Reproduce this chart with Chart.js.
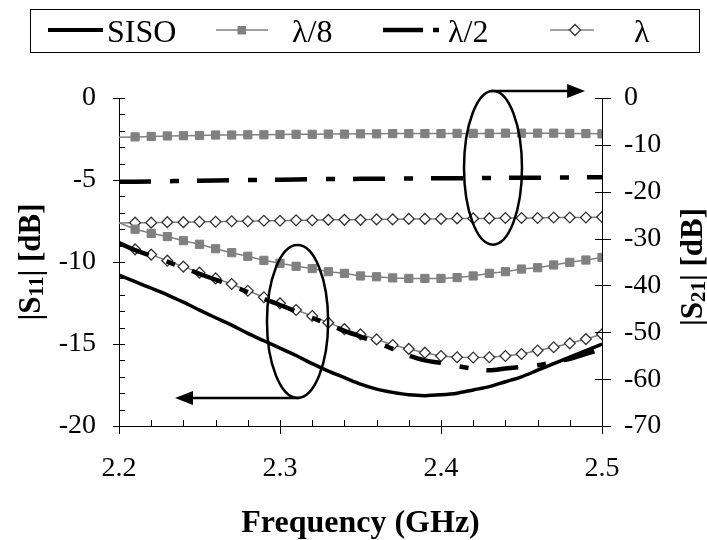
<!DOCTYPE html>
<html>
<head>
<meta charset="utf-8">
<script src="https://cdn.jsdelivr.net/npm/chart.js@4"></script>
<style>
  body { margin: 0; background: #fff; }
  #wrap { position: relative; width: 707px; height: 540px; }
  #legend {
    position: absolute; left: 30px; top: 9px; width: 670px; height: 44px;
    border: 1.5px solid #000; box-sizing: border-box;
    font-family: 'Liberation Serif', serif; font-size: 32px; color: #000;
  }
  #legend svg, #legend span { position: absolute; }
  #legend span { top: 1px; line-height: 40px; }
  #legend svg { top: 10px; }
</style>
</head>
<body>
<div id="wrap">
  <canvas id="chart" width="707" height="540"></canvas>
  <div id="legend">
    <svg style="left:17px" width="56" height="20"><line x1="0" y1="10" x2="55" y2="10" stroke="#000" stroke-width="4"/></svg>
    <span style="left:76px">SISO</span>
    <svg style="left:185px" width="54" height="20"><line x1="0" y1="10" x2="52" y2="10" stroke="#808080" stroke-width="1.5"/><rect x="21.5" y="6" width="8.5" height="8.5" fill="#808080"/></svg>
    <span style="left:261px">λ/8</span>
    <svg style="left:352px" width="60" height="20"><line x1="0" y1="10" x2="40" y2="10" stroke="#000" stroke-width="4.5"/><line x1="50" y1="10" x2="56" y2="10" stroke="#000" stroke-width="4.5"/></svg>
    <span style="left:417px">λ/2</span>
    <svg style="left:519px" width="48" height="20"><line x1="0" y1="10" x2="44" y2="10" stroke="#808080" stroke-width="1.5"/><polygon points="19.5,10 25,4.5 30.5,10 25,15.5" fill="#fff" stroke="#333" stroke-width="1.3"/></svg>
    <span style="left:603px">λ</span>
  </div>
</div>
<script>
// Frequency points (GHz)
const freq = [2.20, 2.21, 2.22, 2.23, 2.24, 2.25, 2.26, 2.27, 2.28, 2.29, 2.30,
  2.31, 2.32, 2.33, 2.34, 2.35, 2.36, 2.37, 2.38, 2.39, 2.40,
  2.41, 2.42, 2.43, 2.44, 2.45, 2.46, 2.47, 2.48, 2.49, 2.50];

// |S11| (left axis)
const sisoS11 = [-10.8, -11.2, -11.6, -12.0, -12.45, -12.93, -13.4, -13.85, -14.35, -14.8, -15.25,
  -15.7, -16.2, -16.65, -17.05, -17.45, -17.75, -17.95, -18.1, -18.15, -18.1,
  -18.0, -17.8, -17.6, -17.3, -17.0, -16.6, -16.2, -15.8, -15.4, -15.0];
const l8S11 = [-7.6, -8.0, -8.25, -8.45, -8.7, -8.92, -9.19, -9.43, -9.65, -9.9, -10.08,
  -10.26, -10.4, -10.59, -10.69, -10.85, -10.9, -10.97, -11.0, -11.0, -11.0,
  -10.95, -10.85, -10.69, -10.59, -10.43, -10.35, -10.18, -10.02, -9.88, -9.72];
const l2S11 = [-8.85, -9.28, -9.62, -9.98, -10.35, -10.72, -11.08, -11.44, -11.84, -12.24, -12.62,
  -13.02, -13.4, -13.8, -14.2, -14.55, -14.9, -15.3, -15.7, -16.0, -16.15,
  -16.35, -16.5, -16.6, -16.5, -16.4, -16.3, -16.1, -15.9, -15.6, -15.3];
const lS11 = [-8.9, -9.23, -9.55, -9.92, -10.28, -10.65, -11.0, -11.34, -11.75, -12.15, -12.52,
  -12.93, -13.29, -13.7, -14.09, -14.41, -14.72, -15.06, -15.3, -15.53, -15.73,
  -15.81, -15.82, -15.81, -15.73, -15.61, -15.4, -15.2, -14.96, -14.7, -14.41];

// |S21| (right axis)
const l8S21 = [-8.4, -8.3, -8.2, -8.1, -8.05, -8.0, -7.9, -7.9, -7.85, -7.85, -7.8,
  -7.75, -7.75, -7.7, -7.7, -7.65, -7.65, -7.6, -7.6, -7.6, -7.6,
  -7.55, -7.55, -7.55, -7.5, -7.5, -7.5, -7.5, -7.55, -7.6, -7.65];
const l2S21 = [-17.9, -17.85, -17.8, -17.75, -17.7, -17.65, -17.6, -17.55, -17.5, -17.5, -17.45,
  -17.4, -17.35, -17.3, -17.3, -17.25, -17.25, -17.2, -17.2, -17.15, -17.15,
  -17.1, -17.1, -17.05, -17.05, -17.0, -17.0, -16.95, -16.95, -16.9, -16.9];
const lS21 = [-26.7, -26.6, -26.6, -26.5, -26.5, -26.4, -26.4, -26.3, -26.3, -26.2, -26.2,
  -26.1, -26.1, -26.0, -26.0, -26.0, -25.9, -25.9, -25.8, -25.8, -25.8,
  -25.7, -25.7, -25.7, -25.6, -25.6, -25.6, -25.5, -25.5, -25.5, -25.4];

// Axis ranges
const xMin = 2.2, xMax = 2.5;
const s11Min = -20, s11Max = 0;
const s21Min = -70, s21Max = 0;

function pts(vals) {
  return freq.map((f, i) => ({ x: f, y: vals[i] }));
}

// no marker on the first sample (at the axis)
const skipFirst = r => ctx => (ctx.dataIndex === 0 ? 0 : r);

const grey = '#808080';
const dashDot = [32, 19, 9, 18];

function squareSet(data, axis) {
  return {
    data: pts(data), yAxisID: axis,
    borderColor: grey, borderWidth: 1.5,
    pointStyle: 'rect', pointRadius: skipFirst(5.8),
    pointBackgroundColor: grey, pointBorderColor: grey, pointBorderWidth: 1
  };
}
function diamondSet(data, axis) {
  return {
    data: pts(data), yAxisID: axis,
    borderColor: grey, borderWidth: 1.5,
    pointStyle: 'rectRot', pointRadius: skipFirst(5.4),
    pointBackgroundColor: '#fff', pointBorderColor: '#333', pointBorderWidth: 1.3
  };
}
function dashSet(data, axis) {
  return {
    data: pts(data), yAxisID: axis,
    borderColor: '#000', borderWidth: 4.5, borderDash: dashDot,
    pointRadius: 0, cubicInterpolationMode: 'monotone'
  };
}

// Inner/outer tick marks like the original plot
const tickMarks = {
  id: 'tickMarks',
  afterDraw(chart) {
    const { ctx, chartArea: a, scales } = chart;
    ctx.save();
    ctx.strokeStyle = '#000';
    ctx.lineWidth = 1;
    ctx.beginPath();
    for (let v = s11Min; v <= s11Max; v++) {
      const y = Math.round(scales.y.getPixelForValue(v)) + 0.5;
      const out = v % 5 === 0 ? 6 : 0;
      ctx.moveTo(a.left - out, y); ctx.lineTo(a.left + 6, y);
    }
    for (let v = s21Min; v <= s21Max; v += 10) {
      const y = Math.round(scales.y2.getPixelForValue(v)) + 0.5;
      ctx.moveTo(a.right - 7, y); ctx.lineTo(a.right + 9, y);
    }
    for (let k = 0; k <= 15; k++) {
      const f = xMin + k * 0.02;
      const x = Math.round(scales.x.getPixelForValue(f)) + 0.5;
      const out = k % 5 === 0 ? 8 : 0;
      ctx.moveTo(x, a.bottom - 6); ctx.lineTo(x, a.bottom + out);
    }
    ctx.stroke();
    ctx.restore();
  }
};

// Ellipses with arrows pointing to the axis each group belongs to
const groupMarks = {
  id: 'groupMarks',
  afterDatasetsDraw(chart) {
    const { ctx, scales } = chart;
    const x = scales.x, yl = scales.y, yr = scales.y2;
    ctx.save();
    ctx.strokeStyle = '#000';
    ctx.fillStyle = '#000';
    ctx.lineWidth = 2.5;

    function group(cx, cy, rx, ry, ys, tipF, up) {
      const px = x.getPixelForValue(cx);
      const py = ys.getPixelForValue(cy);
      const prx = x.getPixelForValue(cx + rx) - px;
      const pry = ys.getPixelForValue(cy - ry) - py;
      ctx.beginPath();
      ctx.ellipse(px, py, prx, pry, 0, 0, Math.PI * 2);
      ctx.stroke();
      const ay = up ? py - pry : py + pry;
      const tip = x.getPixelForValue(tipF);
      const dir = tip > px ? 1 : -1;
      ctx.beginPath();
      ctx.moveTo(px - dir * 2, ay);
      ctx.lineTo(tip - dir * 15, ay);
      ctx.stroke();
      ctx.beginPath();
      ctx.moveTo(tip, ay);
      ctx.lineTo(tip - dir * 18, ay - 7);
      ctx.lineTo(tip - dir * 18, ay + 7);
      ctx.closePath();
      ctx.fill();
    }
    group(2.4323, -14.9, 0.018, 16.4, yr, 2.4895, true);
    group(2.3109, -13.63, 0.019, 4.66, yl, 2.2348, false);
    ctx.restore();
  }
};

// Axis titles (subscripts drawn smaller and lower)
const axisTitles = {
  id: 'axisTitles',
  afterDraw(chart) {
    const { ctx, chartArea: a } = chart;
    const big = "bold 31px 'Liberation Serif'";
    const small = "bold 21px 'Liberation Serif'";
    function vTitle(cx, cy, sub) {
      const parts = [['|S', big, 0], [sub, small, 6], ['| [dB]', big, 0]];
      ctx.save();
      let w = 0;
      parts.forEach(p => { ctx.font = p[1]; w += ctx.measureText(p[0]).width; });
      ctx.translate(cx, cy);
      ctx.rotate(-Math.PI / 2);
      ctx.fillStyle = '#000';
      ctx.textBaseline = 'middle';
      let pos = -w / 2;
      parts.forEach(p => {
        ctx.font = p[1];
        ctx.fillText(p[0], pos, p[2]);
        pos += ctx.measureText(p[0]).width;
      });
      ctx.restore();
    }
    vTitle(32, (a.top + a.bottom) / 2, '11');
    vTitle(694, (a.top + a.bottom) / 2 + 5, '21');

    ctx.save();
    ctx.font = "bold 32px 'Liberation Serif'";
    ctx.fillStyle = '#000';
    ctx.textAlign = 'center';
    ctx.textBaseline = 'alphabetic';
    ctx.fillText('Frequency (GHz)', (a.left + a.right) / 2, 532);
    ctx.restore();
  }
};

Chart.defaults.font.family = "'Liberation Serif', serif";
Chart.defaults.color = '#000';

const chart = new Chart(document.getElementById('chart'), {
  type: 'line',
  data: {
    datasets: [
      { data: pts(sisoS11), yAxisID: 'y', borderColor: '#000', borderWidth: 3.5,
        pointRadius: 0, cubicInterpolationMode: 'monotone' },
      squareSet(l8S11, 'y'),
      squareSet(l8S21, 'y2'),
      dashSet(l2S11, 'y'),
      dashSet(l2S21, 'y2'),
      diamondSet(lS11, 'y'),
      diamondSet(lS21, 'y2')
    ]
  },
  options: {
    responsive: false,
    animation: false,
    layout: { padding: { top: 98, left: 0, right: 0, bottom: 0 } },
    plugins: { legend: { display: false }, tooltip: { enabled: false } },
    scales: {
      x: {
        type: 'linear', min: xMin, max: xMax,
        grid: { drawOnChartArea: false, drawTicks: false },
        border: { color: '#000', width: 1 },
        ticks: { stepSize: 0.1, padding: 26, font: { size: 28 },
          callback: v => v.toFixed(1) },
        afterFit: s => { s.height = 114; }
      },
      y: {
        position: 'left', min: s11Min, max: s11Max,
        grid: { drawOnChartArea: false, drawTicks: false },
        border: { color: '#000', width: 1 },
        ticks: { stepSize: 5, padding: 23, font: { size: 28 } },
        afterFit: s => { s.width = 119; }
      },
      y2: {
        position: 'right', min: s21Min, max: s21Max,
        grid: { drawOnChartArea: false, drawTicks: false },
        border: { color: '#000', width: 1 },
        ticks: { stepSize: 10, padding: 22, font: { size: 28 } },
        afterFit: s => { s.width = 105; }
      }
    }
  },
  plugins: [tickMarks, groupMarks, axisTitles]
});
</script>
</body>
</html>
